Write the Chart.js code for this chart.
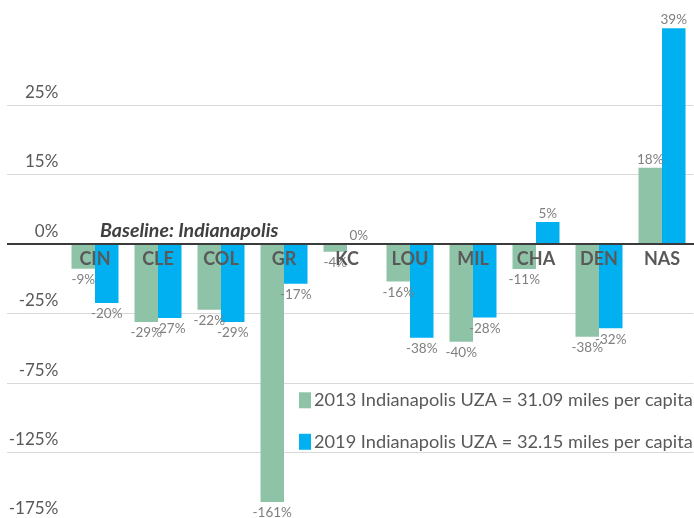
<!DOCTYPE html>
<html><head><meta charset="utf-8">
<script src="https://cdn.jsdelivr.net/npm/chart.js@4.4.0/dist/chart.umd.min.js"></script>
<style>html,body{margin:0;padding:0;background:#fff;overflow:hidden;width:694px;height:518px}
canvas{display:block}</style></head>
<body><canvas id="c" width="694" height="522"></canvas>
<script>
// ---- data ----
const categories = ['CIN','CLE','COL','GR','KC','LOU','MIL','CHA','DEN','NAS'];
const seriesNames = ['2013 Indianapolis UZA = 31.09 miles per capita','2019 Indianapolis UZA = 32.15 miles per capita'];
// printed percentage labels
const pct2013 = [-9,-29,-22,-161,-4,-16,-40,-11,-38,18];
const pct2019 = [-20,-27,-29,-17,0,-38,-28,5,-32,39];
// bar lengths as read on the chart's axis (1 unit = one gridline step)
const bar2013 = [-0.355,-1.122,-0.945,-3.712,-0.11,-0.54,-1.405,-0.36,-1.333,1.098];
const bar2019 = [-0.849,-1.065,-1.122,-0.571,0,-1.348,-1.055,0.317,-1.213,3.108];
// axis ticks: positions on the axis and their printed labels
const tickPositions = [-4,-3,-2,-1,0,1,2];
const tickLabels = ['-175%','-125%','-75%','-25%','0%','15%','25%'];
const baselineNote = 'Baseline: Indianapolis';
const colors = ['#8FC3A7','#00B0F0'];
const pctLabels = [pct2013, pct2019];

Chart.defaults.font.family = 'Lato';

const valueLabels = {
  id:'valueLabels',
  afterDatasetsDraw(chart){
    const ctx = chart.ctx;
    ctx.save();
    ctx.font = '13.5px Lato'; ctx.fillStyle = '#7f7f7f';
    ctx.textAlign = 'center'; ctx.textBaseline = 'middle';
    chart.data.datasets.forEach((ds, di) => {
      chart.getDatasetMeta(di).data.forEach((bar, i) => {
        const v = ds.data[i];
        const y = v < 0 ? bar.y + 11 : bar.y - 8.5;
        ctx.fillText(pctLabels[di][i] + '%', bar.x, y);
      });
    });
    ctx.restore();
  }
};

const extras = {
  id:'extras',
  afterDraw(chart){
    const ctx = chart.ctx;
    ctx.save();
    ctx.textBaseline = 'middle'; ctx.textAlign = 'left';
    ctx.font = 'italic bold 19.5px Lato'; ctx.fillStyle = '#404040';
    ctx.fillText(baselineNote, 100, 230.7);
    ctx.font = '18.2px Lato';
    chart.data.datasets.forEach((ds, i) => {
      const cy = 400.3 + i * 41.5;
      ctx.fillStyle = ds.backgroundColor;
      ctx.fillRect(299, cy - 8, 12, 16);
      ctx.fillStyle = '#595959';
      ctx.fillText(ds.label, 314, cy);
    });
    ctx.restore();
  }
};

new Chart(document.getElementById('c'), {
  type:'bar',
  data:{
    labels:categories,
    datasets:[
      {label:seriesNames[0], data:bar2013, backgroundColor:colors[0], categoryPercentage:0.746, barPercentage:1},
      {label:seriesNames[1], data:bar2019, backgroundColor:colors[1], categoryPercentage:0.746, barPercentage:1}
    ]
  },
  options:{
    responsive:false, animation:false,
    layout:{padding:{left:7, right:0.5, top:0, bottom:0}},
    plugins:{legend:{display:false}, tooltip:{enabled:false}},
    scales:{
      x:{
        position:{y:0},
        grid:{display:false, drawTicks:false},
        border:{display:true, color:'#3a3a3a', width:2, z:2},
        ticks:{z:2, autoSkip:false, maxRotation:0, padding:4, color:'#595959', font:{size:18, weight:'bold'}},
        afterFit(s){ s.height = 0; }
      },
      y:{
        min:-4, max:3.513, bounds:'data',
        afterBuildTicks(s){ s.ticks = tickPositions.map(v => ({value:v})); },
        afterFit(s){ s.width = 56.5; },
        border:{display:false},
        grid:{
          color:c => (c.tick && c.tick.value === 0) ? '#3a3a3a' : '#d9d9d9',
          lineWidth:c => (c.tick && c.tick.value === 0) ? 2 : 1,
          tickLength:56.5
        },
        ticks:{
          padding:-51.3, labelOffset:-13, color:'#595959', font:{size:17},
          callback:(v) => tickLabels[tickPositions.indexOf(v)]
        }
      }
    }
  },
  plugins:[valueLabels, extras]
});
</script>
</body></html>
